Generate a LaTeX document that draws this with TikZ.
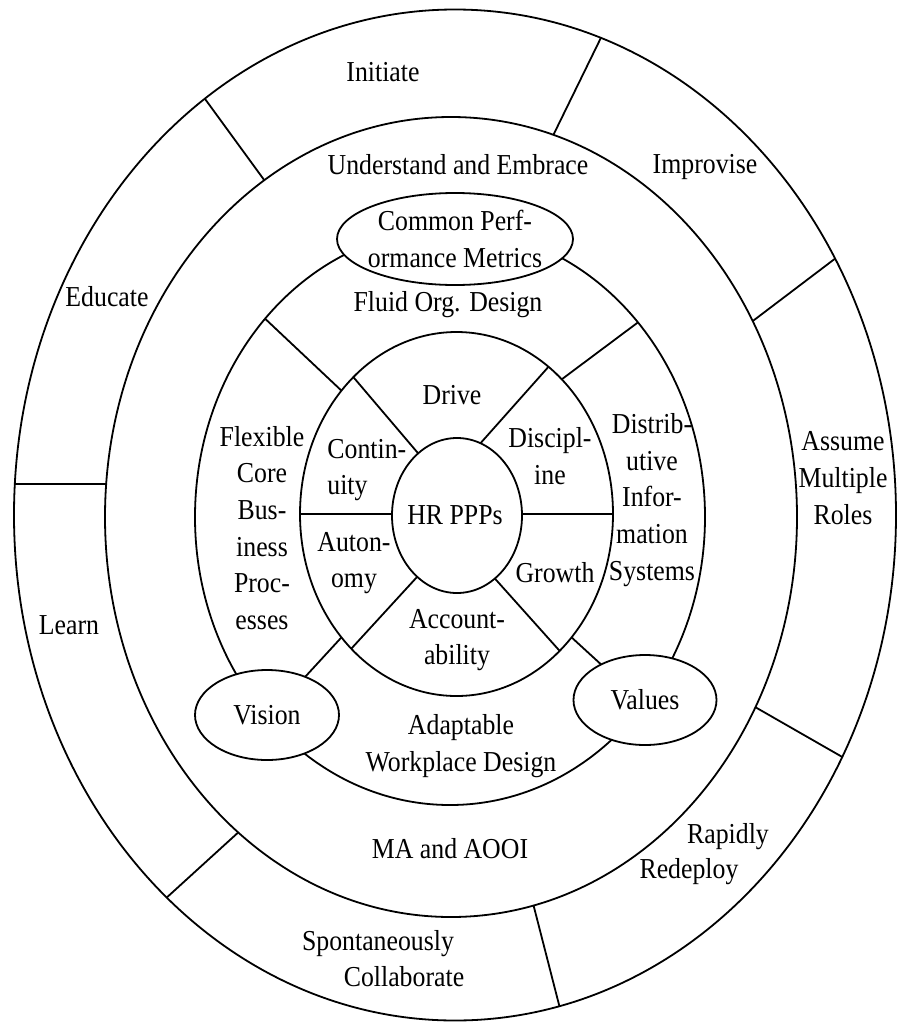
\documentclass[tikz,border=0pt]{standalone}
\usepackage{fontspec}
\setmainfont{Liberation Serif}
\usetikzlibrary{shapes.geometric}
\begin{document}
\begin{tikzpicture}[x=0.5pt,y=-0.5pt,
  ring/.style={draw, ellipse, inner sep=0pt, outer sep=0pt, line width=0.9pt},
  oval/.style={draw, fill=white, ellipse, inner sep=0pt, outer sep=0pt, line width=0.9pt},
  div/.style={line width=0.9pt},
  lbl/.style={inner sep=0pt, align=center, yscale=1.12, font=\fontsize{12.9}{16.4}\selectfont}]
\useasboundingbox (0,0) rectangle (896,1023);
% rings
\node[ring, minimum width=441pt, minimum height=505.5pt] (E1) at (455,515) {};
\node[ring, minimum width=346pt, minimum height=400pt] (E2) at (451,517) {};
\node[ring, minimum width=255pt, minimum height=288pt] (E3) at (450,517) {};
\node[ring, minimum width=156.5pt, minimum height=182pt] (E4) at (456.5,514) {};
\node[ring, minimum width=65pt, minimum height=77.5pt] (C5) at (457,515.5) {};
% ovals on the third ring
\node[oval, minimum width=118pt, minimum height=46pt] (cpm) at (455,239) {};
\node[oval, minimum width=72pt, minimum height=45pt] (vision) at (267,715) {};
\node[oval, minimum width=71.5pt, minimum height=45pt] (values) at (645,700) {};
% outer ring dividers
\draw[div] (E1.176.1) -- (E1.176.1 -| E2.174.7);
\draw[div] (E1.121.95) -- (E2.119.3);
\draw[div] (E1.73.1) -- (E2.75.6);
\draw[div] (E1.34.4) -- (E2.33.3);
\draw[div] (E2.328.8) -- (E1.328);
\draw[div] (E2.282.5) -- (E1.282.2);
\draw[div] (E2.236) -- (E1.233.3);
% third ring dividers
\draw[div] (E3.133.4) -- (E4.133.9);
\draw[div] (E3.46.8) -- (E4.52.7);
\draw[div] (E4.227) -- (vision.45);
\draw[div] (E4.313) -- (values.141.3);
% inner ring dividers
\draw[div] (E4.180) -- (E4.180 -| C5.180);
\draw[div] (E4.0 -| C5.0) -- (E4.0);
\draw[div] (E4.127.3) -- (C5.122.6);
\draw[div] (E4.58.7) -- (C5.72.1);
\draw[div] (C5.237.4) -- (E4.232.7);
\draw[div] (C5.301.6) -- (E4.307.1);
% labels
\node[lbl] (t-init) at (383,72) {Initiate};
\node[lbl] (t-impr) at (705,167) {Improvise};
\node[lbl] (t-assume) at (843,478) {Assume\\Multiple\\Roles};
\node[lbl] (t-edu) at (107,297) {Educate};
\node[lbl] (t-learn) at (69,625) {Learn};
\node[lbl] (t-spont) at (378,944) {Spontaneously};
\node[lbl] (t-collab) at (404,977) {Collaborate};
\node[lbl] (t-rap) at (728,837) {Rapidly};
\node[lbl] (t-redep) at (689,872) {Redeploy};
\node[lbl] (t-und) at (458,165) {Understand and Embrace};
\node[lbl] (t-ma) at (450,849) {MA and AOOI};
\node[lbl] (t-cpm) at (cpm) {Common Perf-\\ormance Metrics};
\node[lbl] (t-fluid) at (448,305) {Fluid Org. Design};
\node[lbl] (t-flex) at (262,528) {Flexible\\Core\\Bus-\\iness\\Proc-\\esses};
\node[lbl] (t-dist) at (652,500) {Distrib-\\utive\\Infor-\\mation\\Systems};
\node[lbl] (t-drive) at (452,395) {Drive};
\node[lbl] (t-disc) at (550,456) {Discipl-\\ine};
\node[lbl, align=left, anchor=west] (t-cont) at (327,470) {Contin-\\uity};
\node[lbl] (t-hr) at (455,515) {HR PPPs};
\node[lbl] (t-auto) at (354,563) {Auton-\\omy};
\node[lbl] (t-grow) at (555,573) {Growth};
\node[lbl] (t-acc) at (457,640) {Account-\\ability};
\node[lbl] (t-adapt) at (461,746) {Adaptable\\Workplace Design};
\node[lbl] (t-vision) at (vision) {Vision};
\node[lbl] (t-values) at (values) {Values};
\end{tikzpicture}
\end{document}
